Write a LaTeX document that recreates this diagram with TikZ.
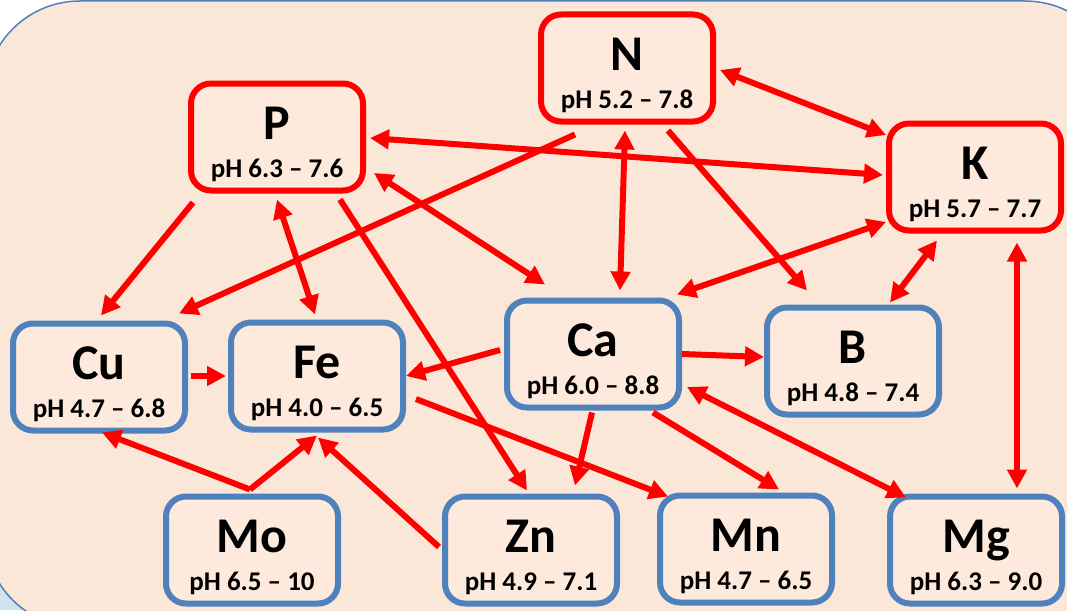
\documentclass[tikz,border=0pt]{standalone}
\usepackage{fontspec}
\setmainfont{Carlito}
\usepackage{tikz}
\usetikzlibrary{arrows.meta}
\definecolor{cRed}{HTML}{FF0000}
\definecolor{cBlue}{HTML}{4F81BD}
\definecolor{cPeach}{HTML}{FBE7D8}
\definecolor{cBox}{HTML}{FDEADC}
\definecolor{cSky}{HTML}{CFE3EE}
\newcommand{\phsize}{\fontsize{27}{38}\selectfont}

\begin{document}
\begin{tikzpicture}[
  x=1pt, y=-1pt,
  >={Triangle[length=19pt, width=19pt]},
  elem/.style={draw=cBlue, fill=cBox, rounded corners=20pt, line width=6pt,
               minimum width=172pt, minimum height=107pt, inner sep=0pt, align=center,
               font=\bfseries\fontsize{50}{38}\selectfont,
               execute at begin node={\rule{0pt}{85pt}}},
  macro/.style={elem, draw=cRed},
  link/.style={->, draw=cRed, line width=6pt},
  both/.style={link, <->},
]
\useasboundingbox (0,0) rectangle (1067,610);
% backdrop
\fill[cSky] (0,420) rectangle (120,610);
\draw[cBlue, line width=1.5pt, fill=cPeach, rounded corners=95pt] (-15,1) rectangle (1120,628);

% macro nutrients
\node[macro] (N) at (627,68) {N\\{\phsize pH 5.2 -- 7.8}};
\node[macro] (P) at (277,137) {P\\{\phsize pH 6.3 -- 7.6}};
\node[macro] (K) at (975,177) {K\\{\phsize pH 5.7 -- 7.7}};
% others
\node[elem] (Cu) at (99,377) {Cu\\{\phsize pH 4.7 -- 6.8}};
\node[elem] (Fe) at (317,376) {Fe\\{\phsize pH 4.0 -- 6.5}};
\node[elem] (Ca) at (593,354) {Ca\\{\phsize pH 6.0 -- 8.8}};
\node[elem] (B) at (853,361) {B\\{\phsize pH 4.8 -- 7.4}};
\node[elem] (Mo) at (252,550) {Mo\\{\phsize pH 6.5 -- 10}};
\node[elem] (Zn) at (531,550) {Zn\\{\phsize pH 4.9 -- 7.1}};
\node[elem] (Mn) at (746,549) {Mn\\{\phsize pH 4.7 -- 6.5}};
\node[elem] (Mg) at (976,550) {Mg\\{\phsize pH 6.3 -- 9.0}};

\draw[both] ([shift={(4,2)}]N.east) -- ([shift={(0,-42)}]K.west);
\draw[both] ([shift={(4,1)}]P.east) -- ([shift={(-3,-2)}]K.west);
\draw[link] ([shift={(-52,10)}]N.south) -- ([shift={(80,-7)}]Cu.north);
\draw[both] ([shift={(-2,6)}]N.south) -- ([shift={(27,-7)}]Ca.north);
\draw[link] ([shift={(41,6)}]N.south) -- ([shift={(-46,-14)}]B.north);
\draw[link] ([shift={(-84,9)}]P.south) -- ([shift={(2,-5)}]Cu.north);
\draw[both] ([shift={(0,6)}]P.south) -- ([shift={(-2,-5)}]Fe.north);
\draw[both] ([shift={(8,36)}]P.east) -- ([shift={(-48,-13)}]Ca.north);
\draw[link] ([shift={(63,6)}]P.south) -- ([shift={(-4,-3)}]Zn.north);
\draw[both] ([shift={(0,45)}]K.west) -- ([shift={(84,-3)}]Ca.north);
\draw[both] ([shift={(-38,7)}]K.south) -- ([shift={(37,-2)}]B.north);
\draw[both] ([shift={(42,9)}]K.south) -- ([shift={(41,-5)}]Mg.north);
\draw[link] ([shift={(3,-1)}]Cu.east) -- ([shift={(-2,0)}]Fe.west);
\draw[link] ([shift={(-4,-4)}]Ca.west) -- (Fe.east);
\draw[link] (Ca.east) -- ([shift={(0,-4)}]B.west);
\draw[both] ([shift={(5,33)}]Ca.east) -- ([shift={(-70,4)}]Mg.north);
\draw[link] ([shift={(-1,2)}]Ca.south) -- ([shift={(44,-8)}]Zn.north);
\draw[link] ([shift={(60,2)}]Ca.south) -- ([shift={(33,-3)}]Mn.north);
\draw[link] ([shift={(10,23)}]Fe.east) -- ([shift={(-78,4)}]Mn.north);
\draw[link] ([shift={(-2,-4)}]Mo.north) -- ([shift={(3,-1)}]Cu.south);
\draw[link] ([shift={(-2,-4)}]Mo.north) -- ([shift={(0,3)}]Fe.south);
\draw[link] ([shift={(-3,-3)}]Zn.west) -- ([shift={(1,5)}]Fe.south);
\end{tikzpicture}
\end{document}
